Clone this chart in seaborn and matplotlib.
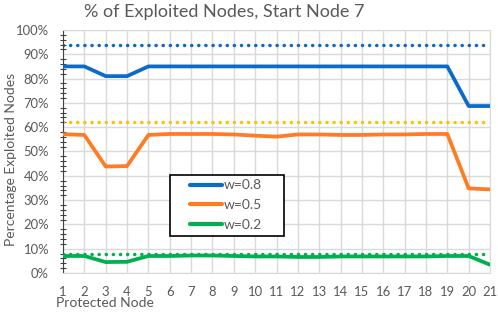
import pandas as pd
import seaborn as sns
import matplotlib.pyplot as plt
from matplotlib.legend_handler import HandlerLine2D
from matplotlib.lines import Line2D
from matplotlib.ticker import MultipleLocator, PercentFormatter

# dados
nodes = list(range(1, 22))
w08 = [85, 85, 81, 81, 85, 85, 85, 85, 85, 85, 85, 85, 85, 85, 85, 85, 85, 85, 85, 68.7, 68.7]
w05 = [57.1, 56.8, 43.8, 44.0, 56.8, 57.2, 57.2, 57.2, 57.0, 56.5, 56.1, 57.0, 57.0, 56.8, 56.8,
       57.0, 57.0, 57.2, 57.2, 34.8, 34.4]
w02 = [7.0, 7.0, 4.5, 4.6, 7.0, 7.0, 7.2, 7.2, 7.0, 6.8, 6.8, 6.6, 6.6, 6.8, 6.8, 6.8, 6.8,
       6.8, 7.0, 7.0, 3.4]
labels = ['w=0.8', 'w=0.5', 'w=0.2']
baselines = [94, 62, 7.7]

colors = ['#0A6BC8', '#FF7B24', '#00B050']
dot_colors = ['#0A6BC8', '#FFC000', '#00B050']

df = pd.DataFrame({'node': nodes * 3,
                   'pct': w08 + w05 + w02,
                   'w': [l for l in labels for _ in nodes]})

sns.set_style('white')
plt.rcParams['font.family'] = ['Lato', 'DejaVu Sans']
gray = '#595959'

fig = plt.figure(figsize=(4.98, 3.12), dpi=100)
ax = fig.add_axes([0.1265, 0.125, 0.8575, 0.779])

# linhas de referência pontilhadas
for b, c in zip(baselines, dot_colors):
    ax.plot([1, 21], [b, b], color=c, linestyle=(0, (0.05, 2.0)), linewidth=2.5,
            dash_capstyle='round', zorder=2)

sns.lineplot(data=df, x='node', y='pct', hue='w', palette=colors, linewidth=2.7,
             ax=ax, zorder=3)

ax.set_xlim(1, 21)
ax.set_ylim(0, 100)
ax.set_xticks(nodes)
ax.yaxis.set_major_locator(MultipleLocator(10))
ax.yaxis.set_minor_locator(MultipleLocator(2))
ax.yaxis.set_major_formatter(PercentFormatter(decimals=0))
ax.grid(True, which='major', color='#D9D9D9', linewidth=1)

for s in ['top', 'right', 'bottom']:
    ax.spines[s].set_color('#D9D9D9')
ax.spines['left'].set_color('#404040')
ax.tick_params(axis='y', which='major', direction='inout', length=6, width=1,
               color='#404040', labelsize=9.4, labelcolor=gray, pad=7)
ax.tick_params(axis='y', which='minor', direction='inout', length=4, width=0.8,
               color='#404040', left=True)
ax.tick_params(axis='x', length=0, labelsize=9.4, labelcolor=gray, pad=9.5)

fig.text(224 / 498, 1 - 17 / 312, '% of Exploited Nodes, Start Node 7', fontsize=13,
         color=gray, ha='center', va='baseline')
ax.set_ylabel('Percentage Exploited Nodes', fontsize=10, color=gray)
ax.yaxis.set_label_coords(-0.108, 0.469)
ax.set_xlabel('Protected Node', fontsize=10, color=gray, loc='left')
ax.xaxis.set_label_coords(-0.016, -0.1)

handles = [Line2D([], [], color=c, linewidth=3) for c in colors]
leg = ax.legend(handles, labels, loc='upper left',
                bbox_to_anchor=(0.2506, 0.1646, 0.267, 0.2387), mode='expand',
                borderaxespad=0, fancybox=False, edgecolor='black', framealpha=1,
                fontsize=10, handlelength=3.42, borderpad=0.32, labelspacing=0.57,
                handletextpad=0.15,
                handler_map={Line2D: HandlerLine2D(xpad=1.12)})
leg.get_frame().set_linewidth(1.2)
for t in leg.get_texts():
    t.set_color(gray)

fig.savefig('out.png', dpi=100)
